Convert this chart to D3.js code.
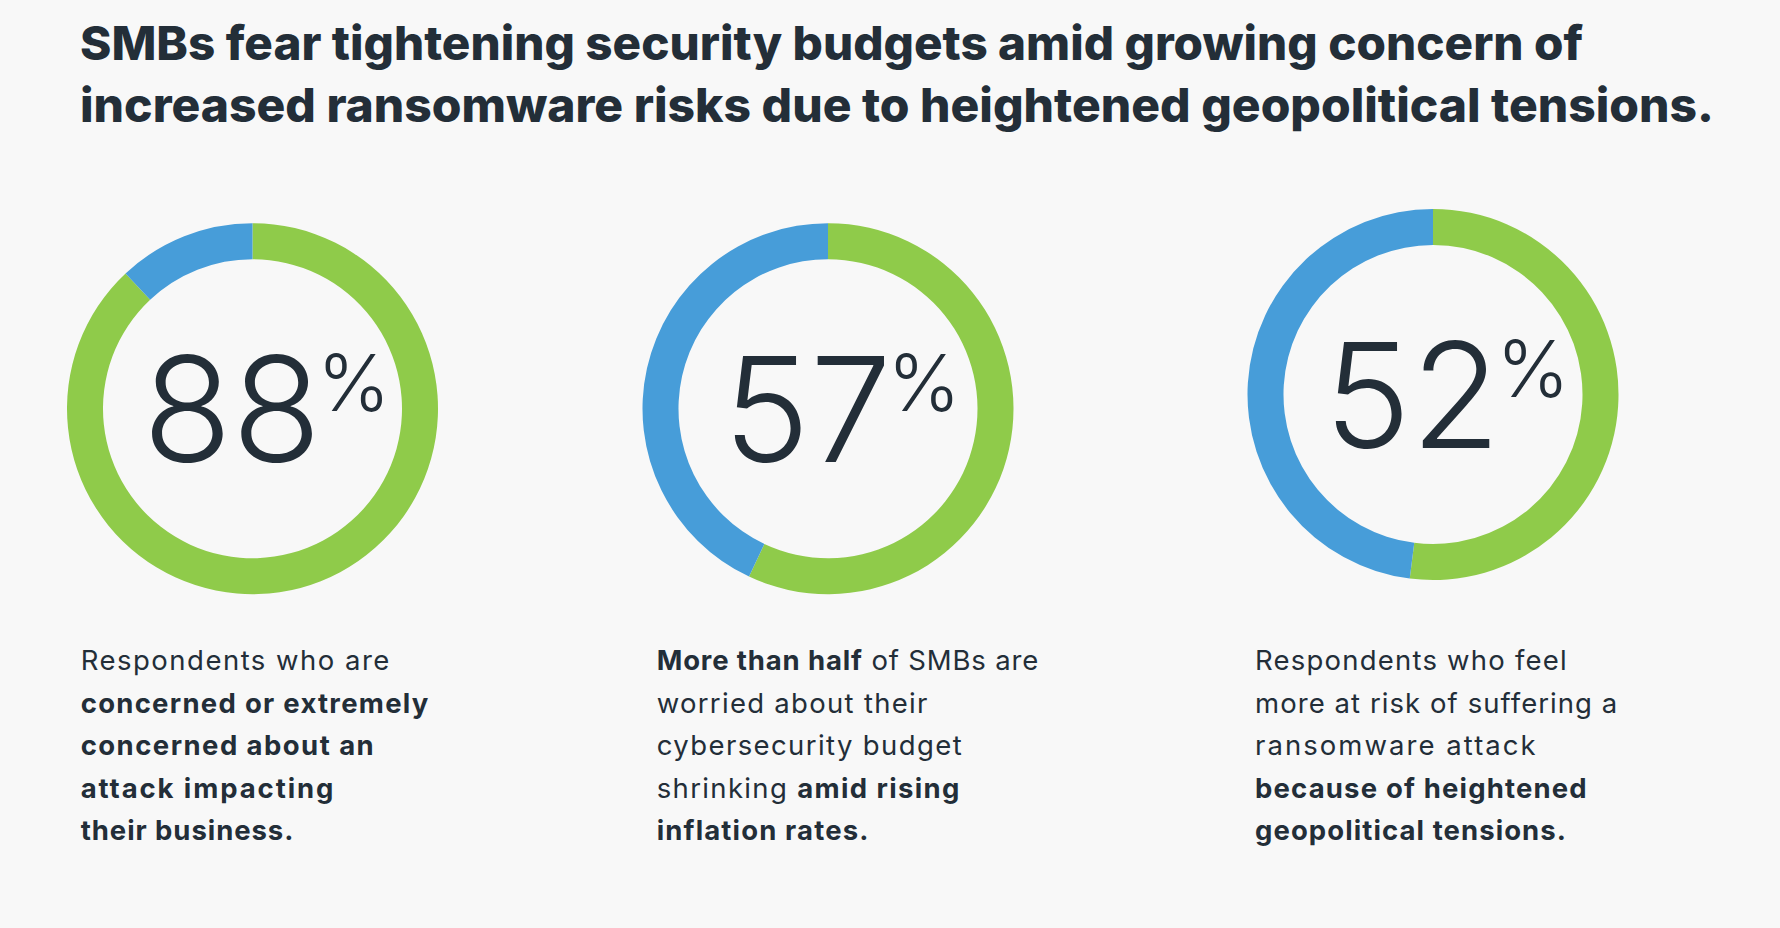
<!DOCTYPE html>
<html>
<head>
<meta charset="utf-8">
<script src="https://cdn.jsdelivr.net/npm/d3@7"></script>
<style>
  html, body { margin: 0; padding: 0; background: #f8f8f8; }
  svg { display: block; }
</style>
</head>
<body>
<div id="chart"></div>
<script>
// ---------- DATA ----------
const titleLines = [
  "SMBs fear tightening security budgets amid growing concern of",
  "increased ransomware risks due to heightened geopolitical tensions."
];
const categories = [
  "Concerned about an attack",
  "Worried about budget shrinking",
  "More at risk due to geopolitical tensions"
];
const values = [88, 57, 52];
// description lines: [text, bold?] segments
const descriptions = [
  [
    [["Respondents who are", false]],
    [["concerned or extremely", true]],
    [["concerned about an", true]],
    [["attack impacting", true]],
    [["their business.", true]]
  ],
  [
    [["More than half", true], [" of SMBs are", false]],
    [["worried about their", false]],
    [["cybersecurity budget", false]],
    [["shrinking ", false], ["amid rising", true]],
    [["inflation rates.", true]]
  ],
  [
    [["Respondents who feel", false]],
    [["more at risk of suffering a", false]],
    [["ransomware attack", false]],
    [["because of heightened", true]],
    [["geopolitical tensions.", true]]
  ]
];

// ---------- LAYOUT ----------
const W = 1780, H = 928;
const COL_GREEN = "#8fcb4a", COL_BLUE = "#479dd9", COL_TEXT = "#232e38";
const centersX = [252.5, 828, 1433];
const centersY = [408.7, 408.7, 394.5];
const outerR = 185.5, innerR = 149.5;
const descX = [80.7, 656.7, 1255];
const descY0 = 670, descDY = 42.5;
// rendered line widths in the original layout (to emulate the wider typeface)
const descWidths = [
  [308.7, 347.7, 293, 252.7, 212.7],
  [381.7, 270.7, 305, 302.7, 211.7],
  [311.7, 362.3, 280.7, 331.7, 311]
];

const svg = d3.select("#chart").append("svg")
  .attr("width", W).attr("height", H);
svg.append("rect").attr("width", W).attr("height", H).attr("fill", "#f8f8f8");

// Title
const titleTargets = [1503, 1634];
const titleBase = [59.5, 122];
titleLines.forEach((t, i) => {
  svg.append("text")
    .attr("x", 80).attr("y", titleBase[i])
    .attr("font-family", "Inter, 'Open Sans', sans-serif")
    .attr("font-weight", 800)
    .attr("font-size", 47)
    .attr("fill", COL_TEXT)
    .attr("textLength", titleTargets[i])
    .attr("lengthAdjust", "spacingAndGlyphs")
    .text(t);
});

// Donuts
const pie = d3.pie().sort(null).value(d => d.v);
const arc = d3.arc().innerRadius(innerR).outerRadius(outerR);
const color = d3.scaleOrdinal().domain(["yes", "no"]).range([COL_GREEN, COL_BLUE]);

values.forEach((v, i) => {
  const g = svg.append("g")
    .attr("transform", `translate(${centersX[i]},${centersY[i]})`);
  const parts = [{k: "yes", v: v}, {k: "no", v: 100 - v}];
  g.selectAll("path").data(pie(parts)).join("path")
    .attr("d", arc)
    .attr("fill", d => color(d.data.k));

  // number + percent
  const grp = g.append("g");
  const num = grp.append("text")
    .attr("font-family", "Inter, 'Open Sans', sans-serif")
    .attr("font-weight", 300)
    .attr("font-size", 146)
    .attr("fill", COL_TEXT)
    .attr("y", 53)
    .text(String(v));
  const nw = num.node().getComputedTextLength();
  const pct = grp.append("text")
    .attr("font-family", "Inter, 'Open Sans', sans-serif")
    .attr("font-weight", 300)
    .attr("font-size", 78)
    .attr("fill", COL_TEXT)
    .attr("x", nw - 4)
    .attr("y", 2)
    .text("%");
  const pw = pct.node().getComputedTextLength();
  const total = nw - 4 + pw;
  grp.attr("transform", `translate(${-total / 2 + 14},0)`);
});

// Descriptions
descriptions.forEach((lines, i) => {
  lines.forEach((segs, j) => {
    const t = svg.append("text")
      .attr("x", descX[i])
      .attr("y", descY0 + j * descDY)
      .attr("font-family", "Inter, 'Open Sans', sans-serif")
      .attr("font-size", 27.5)
      .attr("fill", COL_TEXT)
      .attr("xml:space", "preserve")
      .style("white-space", "pre");
    segs.forEach(([s, b]) => {
      t.append("tspan")
        .attr("font-weight", b ? 700 : 400)
        .text(s);
    });
    const natural = t.node().getComputedTextLength();
    const n = segs.reduce((a, s) => a + s[0].length, 0);
    const ls = (descWidths[i][j] - natural) / Math.max(1, n - 1);
    t.attr("letter-spacing", ls);
  });
});
</script>
</body>
</html>
